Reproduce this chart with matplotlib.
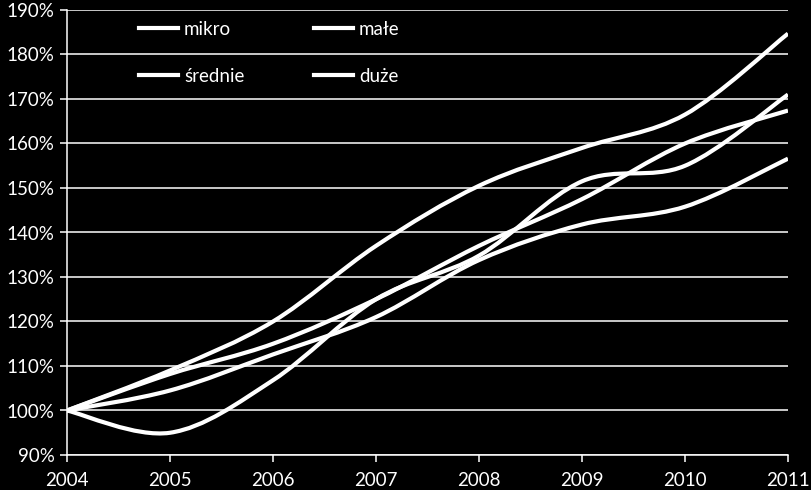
import matplotlib
matplotlib.use("Agg")
import matplotlib.pyplot as plt
from matplotlib.path import Path
from matplotlib.patches import PathPatch
from matplotlib.lines import Line2D

plt.rcParams['font.family'] = ['Lato', 'DejaVu Sans']

years = [2004, 2005, 2006, 2007, 2008, 2009, 2010, 2011]
mikro = [100, 109, 120, 137, 150.5, 159, 166.5, 184.7]
male = [100, 95, 106.8, 125, 134.8, 151.5, 155, 171]
srednie = [100, 108.2, 115, 125, 137, 147.5, 160, 167.4]
duze = [100, 104.5, 112.6, 121, 133.8, 141.8, 145.8, 156.6]
series_names = ["mikro", "małe", "średnie", "duże"]
yticks = [90, 100, 110, 120, 130, 140, 150, 160, 170, 180, 190]

W, H = 811, 490
fig = plt.figure(figsize=(W / 100, H / 100), dpi=100, facecolor='black')
ax = fig.add_axes([67 / W, 1 - 455 / H, (788 - 67) / W, (455 - 10) / H])
ax.set_facecolor('black')


def smooth_path(xs, ys):
    pts = list(zip(xs, ys))
    n = len(pts)
    verts = [pts[0]]
    codes = [Path.MOVETO]
    for i in range(n - 1):
        p0 = pts[i - 1] if i > 0 else pts[i]
        p1 = pts[i]
        p2 = pts[i + 1]
        p3 = pts[i + 2] if i + 2 < n else pts[i + 1]
        c1 = (p1[0] + (p2[0] - p0[0]) / 6, p1[1] + (p2[1] - p0[1]) / 6)
        c2 = (p2[0] - (p3[0] - p1[0]) / 6, p2[1] - (p3[1] - p1[1]) / 6)
        verts += [c1, c2, p2]
        codes += [Path.CURVE4] * 3
    return Path(verts, codes)


lw = 3.0
for vals in [mikro, male, srednie, duze]:
    patch = PathPatch(smooth_path(years, vals), fill=False, edgecolor='white',
                      linewidth=lw, capstyle='butt', joinstyle='round', zorder=3)
    ax.add_patch(patch)

ax.set_xlim(years[0], years[-1])
ax.set_ylim(yticks[0], yticks[-1])
ax.set_xticks(years)
ax.set_xticklabels([str(y) for y in years])
ax.set_yticks(yticks)
ax.set_yticklabels([f"{v}%" for v in yticks])
ax.yaxis.grid(True, color='white', linewidth=1.1)
ax.set_axisbelow(True)

for s in ['top', 'right']:
    ax.spines[s].set_visible(False)
for s in ['left', 'bottom']:
    ax.spines[s].set_color('white')
    ax.spines[s].set_linewidth(1.1)

ax.tick_params(axis='both', colors='white', labelcolor='white', labelsize=13.5,
               length=5, width=1.1)
ax.tick_params(axis='y', pad=4)
ax.tick_params(axis='x', pad=7)

# row-wise legend order: mikro, małe / średnie, duże
order = [0, 2, 1, 3]
handles = [Line2D([0], [0], color='white', linewidth=lw) for _ in order]
labels = [series_names[i] for i in order]
leg = ax.legend(handles, labels, ncol=2, loc='upper left',
                bbox_to_anchor=(72 / (788 - 67), 1 - 11 / 445), frameon=False,
                fontsize=13.5, handlelength=2.1, handletextpad=0.3,
                columnspacing=3.7, labelspacing=1.6, borderpad=0,
                borderaxespad=0)
for t in leg.get_texts():
    t.set_color('white')

fig.savefig('out.png', dpi=100, facecolor='black')
